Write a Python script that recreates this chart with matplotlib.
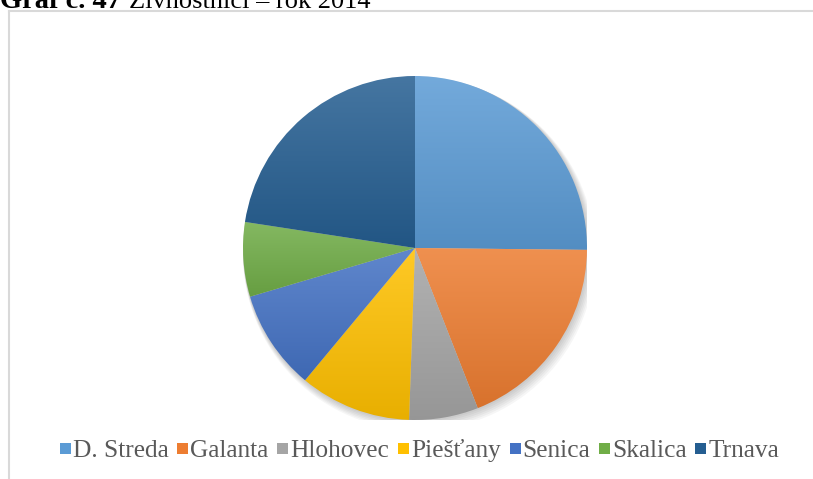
import numpy as np
import matplotlib
matplotlib.use("Agg")
import matplotlib.pyplot as plt
from matplotlib.patches import Circle, Rectangle
from matplotlib.lines import Line2D
from matplotlib.colors import to_rgb

categories = ["D. Streda", "Galanta", "Hlohovec", "Piešťany", "Senica", "Skalica", "Trnava"]
values = [25.2, 18.9, 6.5, 10.5, 9.4, 7.0, 22.6]
colors = ["#5B9BD5", "#ED7D31", "#A5A5A5", "#FFC000", "#4472C4", "#70AD47", "#255E91"]
title_bold = "Graf č. 47"
title_rest = "Živnostníci – rok 2014"

W, H = 813, 479
fig = plt.figure(figsize=(W / 100, H / 100), dpi=100)
fig.patch.set_facecolor("white")

serif = ["Liberation Serif", "DejaVu Serif"]

# frame lines (chart area border, partly outside image)
fig.add_artist(Line2D([8.5 / W, 1.0], [1 - 11 / H, 1 - 11 / H], transform=fig.transFigure,
                      color="#D9D9D9", lw=1.5))
fig.add_artist(Line2D([8.5 / W, 8.5 / W], [1 - 11 / H, 0], transform=fig.transFigure,
                      color="#D9D9D9", lw=1.5))

# title (cut at top)
fig.text(0, 1 - 7.5 / H, title_bold, fontsize=20.5, fontweight="bold", family=serif,
         va="baseline", ha="left", color="black")
fig.text(129 / W, 1 - 7.5 / H, title_rest, fontsize=19, family=serif,
         va="baseline", ha="left", color="black")

# pie axes
cx, cy, r = 415, 248, 172
ax = fig.add_axes([(cx - r) / W, (H - cy - r) / H, 2 * r / W, 2 * r / H])
ax.set_axis_off()

# soft shadow
for k in range(1, 7):
    ax.add_patch(Circle((0.004 * k, -0.006 * k), 1.0 + 0.004 * k, facecolor="black",
                        edgecolor="none", alpha=0.035, zorder=0))

wedges, _ = ax.pie(values, startangle=90, counterclock=False, radius=1.0,
                   wedgeprops=dict(edgecolor="none"))


def mix(c, t, f):
    c = np.array(to_rgb(c))
    t = np.array(to_rgb(t))
    return c * (1 - f) + t * f


for w, col in zip(wedges, colors):
    th1, th2 = np.deg2rad(w.theta1), np.deg2rad(w.theta2)
    ts = np.linspace(th1, th2, 200)
    xs = np.concatenate([[0], np.cos(ts)])
    ys = np.concatenate([[0], np.sin(ts)])
    top = mix(col, "white", 0.15)
    bot = mix(col, "black", 0.09)
    n = 256
    f = np.linspace(0, 1, n)[:, None]
    grad = top[None, :] * (1 - f) + bot[None, :] * f
    img = grad[:, None, :]
    w.set_facecolor("none")
    im = ax.imshow(img, extent=[xs.min() - 0.01, xs.max() + 0.01, ys.min() - 0.01, ys.max() + 0.01],
                   origin="upper", aspect="auto", interpolation="bilinear", zorder=2)
    im.set_clip_path(w)

ax.set_xlim(-1, 1)
ax.set_ylim(-1, 1)
ax.set_aspect("auto")

# manual legend, all labels on a common baseline
renderer = fig.canvas.get_renderer()
leg_left, leg_right = 60, 779
baseline = 457
msize = 11
mgap = 2
texts = []
widths = []
for lab in categories:
    t = fig.text(0, 1 - baseline / H, lab, fontsize=18.3, family=serif, color="#595959",
                 va="baseline", ha="left")
    texts.append(t)
    widths.append(t.get_window_extent(renderer).width)
item_w = [msize + mgap + tw for tw in widths]
gap = (leg_right - leg_left - sum(item_w)) / (len(categories) - 1)
x = leg_left
for t, tw, col in zip(texts, widths, colors):
    fig.add_artist(Rectangle((x / W, 1 - (baseline - 3) / H), msize / W, msize / H,
                             transform=fig.transFigure, facecolor=col, edgecolor="none"))
    t.set_x((x + msize + mgap) / W)
    x += msize + mgap + tw + gap

fig.savefig("out.png", dpi=100, facecolor="white")
